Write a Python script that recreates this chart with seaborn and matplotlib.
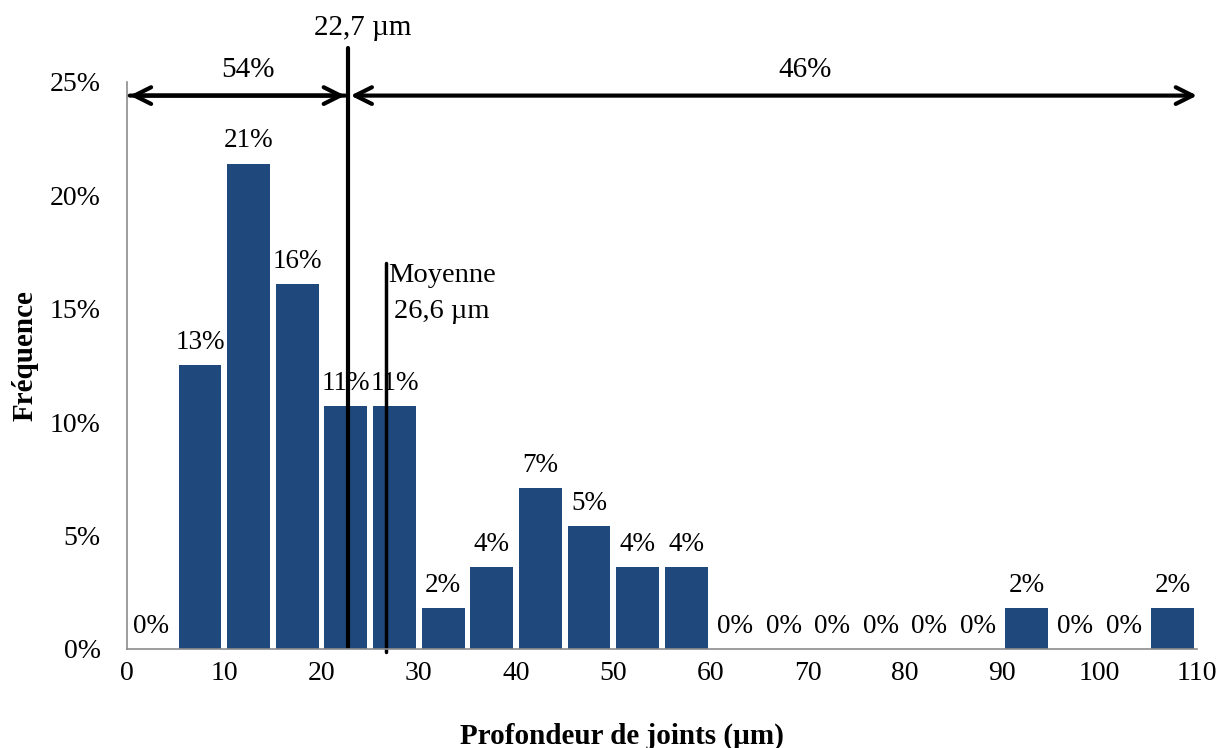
import numpy as np
import pandas as pd
import matplotlib
matplotlib.use('Agg')
import matplotlib.pyplot as plt
import seaborn as sns
from matplotlib.ticker import MultipleLocator, FuncFormatter

# Bin centres (µm) and frequencies (%)
bin_centres = [2.5, 7.5, 12.5, 17.5, 22.5, 27.5, 32.5, 37.5, 42.5, 47.5, 52.5,
               57.5, 62.5, 67.5, 72.5, 77.5, 82.5, 87.5, 92.5, 97.5, 102.5, 107.5]
frequences = [0.0, 12.5, 21.4, 16.1, 10.7, 10.7, 1.8, 3.6, 7.1, 5.4, 3.6,
              3.6, 0.0, 0.0, 0.0, 0.0, 0.0, 0.0, 1.8, 0.0, 0.0, 1.8]
bin_edges = list(range(0, 115, 5))

median_val = 22.7
mean_val = 26.6
part_gauche = '54%'
part_droite = '46%'

bar_color = '#1F497D'
grey = '#8C8C8C'

sns.set_style('white')
plt.rcParams['font.family'] = ['Liberation Serif', 'DejaVu Serif']
plt.rcParams['text.color'] = 'black'
plt.rcParams['xtick.labelcolor'] = 'black'
plt.rcParams['ytick.labelcolor'] = 'black'
plt.rcParams['axes.labelcolor'] = 'black'

df = pd.DataFrame({'profondeur': bin_centres, 'freq': frequences})

fig = plt.figure(figsize=(12.26, 7.48), dpi=100)
ax = fig.add_axes([0.1036, 0.1324, 0.8727, 0.758])

sns.histplot(data=df, x='profondeur', weights='freq', bins=bin_edges, shrink=0.88,
             color=bar_color, alpha=1, edgecolor='none', linewidth=0, ax=ax)

ax.set_xlim(0, 110)
ax.set_ylim(0, 25)

# value labels (rounded half up, as in Excel)
for x, v in zip(bin_centres, frequences):
    ax.text(x, v + 0.45, f'{int(v + 0.5)}%', ha='center', va='bottom', fontsize=19.5)

# ticks and spines
ax.xaxis.set_major_locator(MultipleLocator(10))
ax.xaxis.set_minor_locator(MultipleLocator(5))
ax.yaxis.set_major_locator(MultipleLocator(5))
ax.yaxis.set_major_formatter(FuncFormatter(lambda v, p: f'{v:.0f}%'))
ax.tick_params(axis='both', which='both', direction='out', color=grey, width=1.2,
               labelsize=20, length=6, pad=3)
ax.tick_params(axis='y', pad=13)
ax.tick_params(axis='x', which='minor', length=6)
for side in ['top', 'right']:
    ax.spines[side].set_visible(False)
for side in ['left', 'bottom']:
    ax.spines[side].set_color(grey)
    ax.spines[side].set_linewidth(1.2)

ax.set_xlabel('Profondeur de joints (µm)', fontsize=21, fontweight='bold')
ax.set_ylabel('Fréquence', fontsize=21, fontweight='bold')
ax.xaxis.set_label_coords(0.463, -0.13)
ax.yaxis.set_label_coords(-0.083, 0.518)

# median line and arrows
ax.plot([median_val, median_val], [0.1, 26.5], color='black', lw=3, clip_on=False)
ax.annotate('', xy=(0, 24.4), xytext=(median_val, 24.4),
            arrowprops=dict(arrowstyle='->', color='black', lw=3, mutation_scale=30),
            annotation_clip=False)
ax.annotate('', xy=(median_val, 24.4), xytext=(0, 24.4),
            arrowprops=dict(arrowstyle='->', color='black', lw=3, mutation_scale=30),
            annotation_clip=False)
ax.annotate('', xy=(110.3, 24.4), xytext=(median_val, 24.4),
            arrowprops=dict(arrowstyle='<->', color='black', lw=3, mutation_scale=30),
            annotation_clip=False)
ax.text(24.2, 27.4, f'{median_val:.1f} µm'.replace('.', ','), ha='center',
        va='center', fontsize=21)
ax.text(12.4, 25.55, part_gauche, ha='center', va='center', fontsize=21)
ax.text(69.7, 25.55, part_droite, ha='center', va='center', fontsize=21)

# mean line
ax.plot([mean_val, mean_val], [-0.15, 17.0], color='black', lw=2.5, clip_on=False)
ax.text(mean_val + 0.2, 16.45, 'Moyenne', ha='left', va='center', fontsize=20.5)
ax.text(mean_val + 0.8, 14.9, f'{mean_val:.1f} µm'.replace('.', ','), ha='left',
        va='center', fontsize=20.5)

plt.savefig('out.png', dpi=100)
